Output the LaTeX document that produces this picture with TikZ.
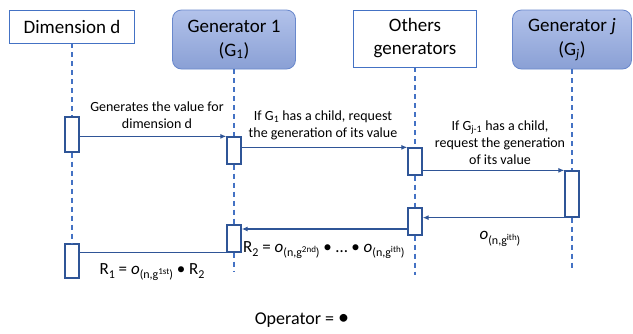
\documentclass[tikz,border=0pt]{standalone}
\usepackage{fontspec}
\setmainfont{Carlito}
\usetikzlibrary{arrows.meta,calc}
\definecolor{life}{HTML}{4472C4}
\definecolor{act}{HTML}{2F5597}
\definecolor{gtop}{RGB}{178,194,234}
\definecolor{gbot}{RGB}{138,160,213}
\definecolor{gbord}{RGB}{105,136,204}
\newcommand{\osub}[1]{\raisebox{-0.55ex}{\fontsize{12}{12}\selectfont #1}}
\newcommand{\osup}[1]{\raisebox{0.75ex}{\fontsize{9}{9}\selectfont #1}}
\begin{document}
\begin{tikzpicture}[x=1pt,y=-1pt,
  hdr/.style={draw=life, line width=0.8pt, fill=white, minimum width=125pt, minimum height=33pt, inner sep=2pt, font=\fontsize{19}{23}\selectfont, align=center},
  gen/.style={draw=gbord, line width=0.8pt, rounded corners=9pt, top color=gtop, bottom color=gbot, inner sep=2pt, font=\fontsize{19}{24}\selectfont, align=center},
  lifeline/.style={draw=life, line width=1.2pt, dash pattern=on 5pt off 4pt},
  actbox/.style={draw=act, line width=1.3pt, fill=white, minimum width=14pt, inner sep=0pt},
  msg/.style={draw=act, line width=1.2pt, -{Latex[length=6pt,width=5pt]}},
  plainmsg/.style={draw=act, line width=1.2pt},
  lbl/.style={font=\fontsize{14}{17}\selectfont, align=center, inner sep=0pt},
  rlbl/.style={font=\fontsize{17}{20}\selectfont, inner sep=0pt}]
\useasboundingbox (0,0) rectangle (633,333);

% headers
\node[hdr] (dim) at (72,26.5) {Dimension d};
\node[gen, minimum width=123pt, minimum height=59pt] (g1) at (234,39.5) {Generator 1\\(G\textsubscript{1})};
\node[hdr, minimum width=123pt, minimum height=57pt] (oth) at (415,38.5) {Others\\generators};
\node[gen, minimum width=119pt, minimum height=59pt] (gj) at (572,39.5) {Generator \textit{j}\\(G\textsubscript{\textit{j}})};

% lifeline ends
\coordinate (g1end) at (234,272);
\coordinate (othend) at (415,275);
\coordinate (gjend) at (572,270);

% activation boxes
\node[actbox, minimum height=35pt] (a1) at (72,134.5) {};
\node[actbox, minimum height=34pt] (a2) at (72,261) {};
\node[actbox, minimum height=27pt] (b1) at (234,150.5) {};
\node[actbox, minimum height=27pt] (b2) at (234,238.5) {};
\node[actbox, minimum height=27pt] (c1) at (415,161.5) {};
\node[actbox, minimum height=27pt] (c2) at (415,221.5) {};
\node[actbox, minimum height=46pt] (d1) at (572,194) {};

% lifelines
\draw[lifeline] (dim.south) -- (a1.north);
\draw[lifeline] (a1.south) -- (a2.north);
\draw[lifeline] (g1.south) -- (b1.north);
\draw[lifeline] (b1.south) -- (b2.north);
\draw[lifeline] (b2.south) -- (g1end);
\draw[lifeline] (oth.south) -- (c1.north);
\draw[lifeline] (c1.south) -- (c2.north);
\draw[lifeline] (c2.south) -- (othend);
\draw[lifeline] (gj.south) -- (d1.north);
\draw[lifeline] (d1.south) -- (gjend);

% messages
\draw[msg] (a1.east |- b1.north west) -- (b1.north west);
\draw[msg] (b1.east |- c1.north west) -- (c1.north west);
\draw[msg] (c1.east |- d1.north west) -- (d1.north west);
\draw[msg] (d1.south west) -- (d1.south west -| c2.east);
\draw[msg] ([yshift=-7.5pt]c2.west) -- ([yshift=-7.5pt]c2.west -| b2.east);
\draw[plainmsg] (b2.south west) -- (b2.south west -| a2.east);

% labels
\node[lbl] (l1) at (157,115) {Generates the value for\\dimension d};
\node[lbl] (l2) at (323,125.5) {If G\textsubscript{1} has a child, request\\the generation of its value};
\node[lbl] (l3) at (500,142.5) {If G\textsubscript{j-1} has a child,\\request the generation\\of its value};
\node[rlbl, anchor=west] (r2) at (243,250) {R\osub{2} = \textit{o}\osub{(n,g\osup{2nd})} • … • \textit{o}\osub{(n,g\osup{ith})}};
\node[rlbl] (r1) at (152,272) {R\osub{1} = \textit{o}\osub{(n,g\osup{1st})} • R\osub{2}};
\node[rlbl] (oi) at (500,239) {\textit{o}\osub{(n,g\osup{ith})}};
\node[font=\fontsize{18}{22}\selectfont, inner sep=0pt] (op) at (302,320) {Operator = {\fontsize{22}{22}\selectfont •}};
\end{tikzpicture}
\end{document}
